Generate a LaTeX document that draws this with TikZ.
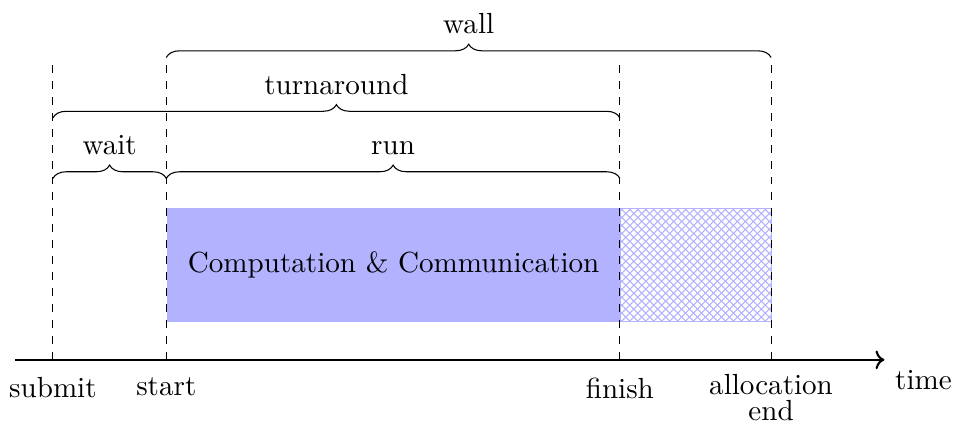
\documentclass[tikz,border=0pt,11pt]{standalone}
\usepackage{tikz}
\usetikzlibrary{arrows.meta, decorations.pathreplacing, patterns, positioning, calc}

\begin{document}
\begin{tikzpicture}[
    % Styles
    marker/.style={dashed},
    span/.style={decorate, decoration={brace, amplitude=5pt}},
    spanlabel/.style={midway, above=5pt},
    busy/.style={fill=blue!30, draw=none, align=center},
    idle/.style={draw=blue!30, pattern=crosshatch, pattern color=blue!30},
    axis/.style={->, thick}
]
\useasboundingbox (-0.70,-0.86) rectangle (11.92,4.76);

% --- Time points on the axis ---
\coordinate (submit) at (0,0);
\coordinate (start) at (1.5,0);
\coordinate (finish) at (7.5,0);
\coordinate (alloc_end) at (9.5,0);
\coordinate (axis_begin) at (-0.5,0);
\coordinate (axis_end) at (11,0);

% --- Tops of the markers ---
\coordinate (submit_top) at (0,4);
\coordinate (start_top) at (1.5,4);
\coordinate (finish_top) at (7.5,4);
\coordinate (alloc_end_top) at (9.5,4);

% --- Job phases ---
\node[busy, minimum width=6cm, minimum height=1.5cm, anchor=south west] (compute) at (1.5,0.5) {Computation \& Communication};
\node[idle, minimum width=2cm, minimum height=1.5cm, anchor=south west, inner sep=0pt] (unused) at (7.5,0.5) {};

% --- Axis and markers ---
\draw[marker] (submit) -- (submit_top);
\draw[marker] (start) -- (start_top);
\draw[marker] (finish) -- (finish_top);
\draw[marker] (alloc_end) -- (alloc_end_top);
\draw[axis] (axis_begin) -- (axis_end) node[below right] (time) {time};

% --- Labels below the axis ---
\node[below=0.1cm of submit] (submit_label) {submit};
\node[below=0.1cm of start] (start_label) {start};
\node[below=0.1cm of finish] (finish_label) {finish};
\node[below=0.05cm of alloc_end, align=center] (alloc_end_label) {allocation\\[-3.5pt]end};

% --- Braces ---
\draw[span] ($(submit)+(0,2.4)$) -- node[spanlabel] (wait) {wait} ($(start)+(0,2.4)$);
\draw[span] ($(start)+(0,2.4)$) -- node[spanlabel] (run) {run} ($(finish)+(0,2.4)$);
\draw[span] ($(submit)+(0,3.2)$) -- node[spanlabel] (turnaround) {turnaround} ($(finish)+(0,3.2)$);
\draw[span] (start_top) -- node[spanlabel] (wall) {wall} (alloc_end_top);

\end{tikzpicture}
\end{document}
